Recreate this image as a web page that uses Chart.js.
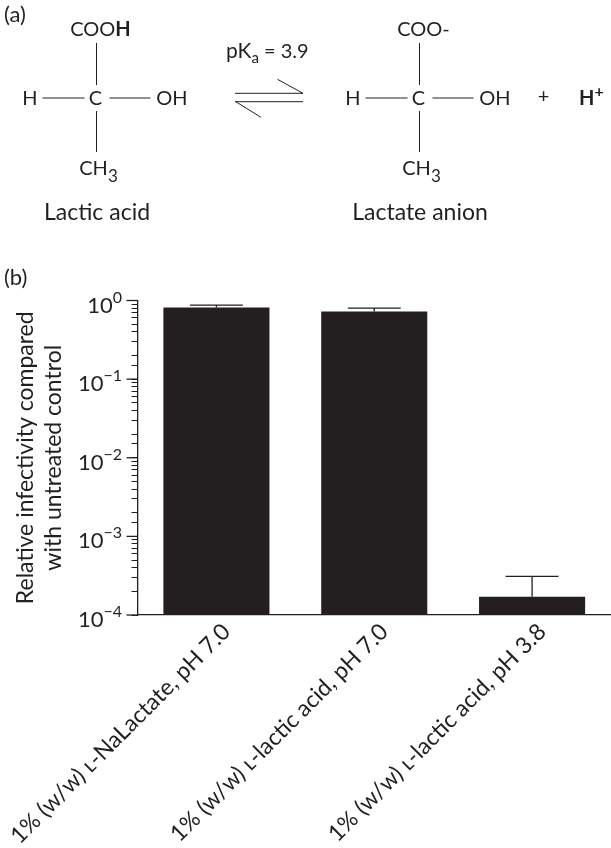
<!DOCTYPE html>
<html><head><meta charset="utf-8">
<style>html,body{margin:0;padding:0;background:#fff}canvas{display:block}</style>
<script src="https://cdn.jsdelivr.net/npm/chart.js@4"></script>
</head><body>
<canvas id="c" width="611" height="848"></canvas>
<script>
const categories = ['1% (w/w) ʟ-NaLactate, pH 7.0', '1% (w/w) ʟ-lactic acid, pH 7.0', '1% (w/w) ʟ-lactic acid, pH 3.8'];
const infectivity = [0.815, 0.724, 0.000171];
const errorUpper = [0.875, 0.80, 0.00031];
const decadeValues = [1, 0.1, 0.01, 0.001, 0.0001];
const decadeExponents = ['0', '−1', '−2', '−3', '−4'];
const yAxisTitle = ['Relative infectivity compared', 'with untreated control'];

const INK = '#231f20';
const FONT = 'Lato, "Noto Sans", sans-serif';

function runs(ctx, x, y, parts, align) {
  ctx.textBaseline = 'alphabetic';
  ctx.textAlign = 'left';
  let w = 0;
  for (const p of parts) { ctx.font = (p.b ? 'bold ' : '') + p.s + 'px ' + FONT; w += ctx.measureText(p.t).width; }
  let cx = align === 'center' ? x - w / 2 : align === 'right' ? x - w : x;
  for (const p of parts) {
    ctx.font = (p.b ? 'bold ' : '') + p.s + 'px ' + FONT;
    ctx.fillText(p.t, cx, y + (p.dy || 0));
    cx += ctx.measureText(p.t).width;
  }
}
function seg(ctx, a, b, c, d) { ctx.beginPath(); ctx.moveTo(a, b); ctx.lineTo(c, d); ctx.stroke(); }

function molecule(ctx, cx, top, oh, name, nameX) {
  const S = 20;
  runs(ctx, cx - 1, 105, [{t:'C', s:S}], 'center');
  runs(ctx, cx - 66.5, 105, [{t:'H', s:S}], 'center');
  runs(ctx, oh, 105, [{t:'OH', s:S}], 'center');
  runs(ctx, cx + 4, 35.5, top, 'center');
  runs(ctx, cx + 2, 175, [{t:'CH', s:S}, {t:'3', s:17, dy:7}], 'center');
  runs(ctx, nameX, 220, [{t:name, s:23}], 'center');
  seg(ctx, cx, 43, cx, 85);
  seg(ctx, cx, 111, cx, 152);
  seg(ctx, cx - 54, 98, cx - 12, 98);
  seg(ctx, cx + 13, 98, cx + 54, 98);
}

const annotations = {
  id: 'annotations',
  afterDatasetsDraw(chart) {
    const ctx = chart.ctx, y = chart.scales.y, x = chart.scales.x;
    ctx.save();
    ctx.strokeStyle = INK; ctx.fillStyle = INK;

    // error bars (upper arm only; the lower arm is hidden in the bar)
    ctx.lineWidth = 1.3;
    errorUpper.forEach((v, i) => {
      const px = x.getPixelForValue(i), t = y.getPixelForValue(v), b = y.getPixelForValue(infectivity[i]);
      seg(ctx, px, b, px, t);
      seg(ctx, px - 26.5, t, px + 26.5, t);
    });

    // decade ticks and labels
    decadeValues.forEach((v, i) => {
      const py = y.getPixelForValue(v);
      seg(ctx, chart.chartArea.left - 11, py, chart.chartArea.left, py);
      runs(ctx, 122, py + 12, [{t:'10', s:22}, {t:decadeExponents[i], s:16, dy:-10}], 'right');
    });

    // panel letters
    runs(ctx, 4, 22, [{t:'(a)', s:22}], 'left');
    runs(ctx, 4, 285, [{t:'(b)', s:22}], 'left');

    // panel (a) structures
    ctx.lineWidth = 1;
    molecule(ctx, 96.5, [{t:'COO', s:20}, {t:'H', s:20, b:true}], 172, 'Lactic acid', 97);
    molecule(ctx, 419.5, [{t:'COO-', s:20}], 495, 'Lactate anion', 420);
    runs(ctx, 226, 58, [{t:'pK', s:21}, {t:'a', s:15, dy:5}, {t:' = 3.9', s:20}], 'left');
    seg(ctx, 235, 93.3, 303, 93.3);
    seg(ctx, 277.5, 79.3, 303, 93.3);
    seg(ctx, 235, 101.7, 303, 101.7);
    seg(ctx, 235.8, 101.7, 261, 117.3);
    runs(ctx, 543.5, 103, [{t:'+', s:20}], 'center');
    runs(ctx, 579, 105, [{t:'H', s:20, b:true}, {t:'+', s:16, b:true, dy:-8}], 'left');
    ctx.restore();
  }
};

new Chart(document.getElementById('c'), {
  type: 'bar',
  data: { labels: categories, datasets: [{ data: infectivity, backgroundColor: INK, borderWidth: 0, barPercentage: 0.672, categoryPercentage: 1 }] },
  plugins: [annotations],
  options: {
    responsive: false, animation: false,
    layout: { padding: { top: 300.5, left: 0, right: 0, bottom: 0 } },
    plugins: { legend: { display: false }, tooltip: { enabled: false } },
    scales: {
      x: {
        type: 'category',
        grid: { display: false },
        border: { display: true, color: INK, width: 1.3 },
        afterFit(s) { s.height = 233; s.paddingLeft = 0; s.paddingRight = 0; },
        ticks: { color: INK, font: { family: FONT, size: 23 }, minRotation: 45, maxRotation: 45, padding: -5, autoSkip: false, labelOffset: 10 }
      },
      y: {
        type: 'logarithmic', min: 0.0001, max: 1,
        afterFit(s) { s.width = 137.5; s.paddingTop = 0; s.paddingBottom = 0; },
        border: { display: true, color: INK, width: 1.3 },
        grid: { drawOnChartArea: false, drawTicks: true, tickLength: 6, tickColor: INK, tickWidth: 1 },
        title: { display: true, text: yAxisTitle, color: INK, font: { family: FONT, size: 23 }, padding: { top: 12, bottom: 0 } },
        ticks: { callback: () => '', autoSkip: false, font: { size: 1 }, padding: 0 }
      }
    }
  }
});
</script>
</body></html>
